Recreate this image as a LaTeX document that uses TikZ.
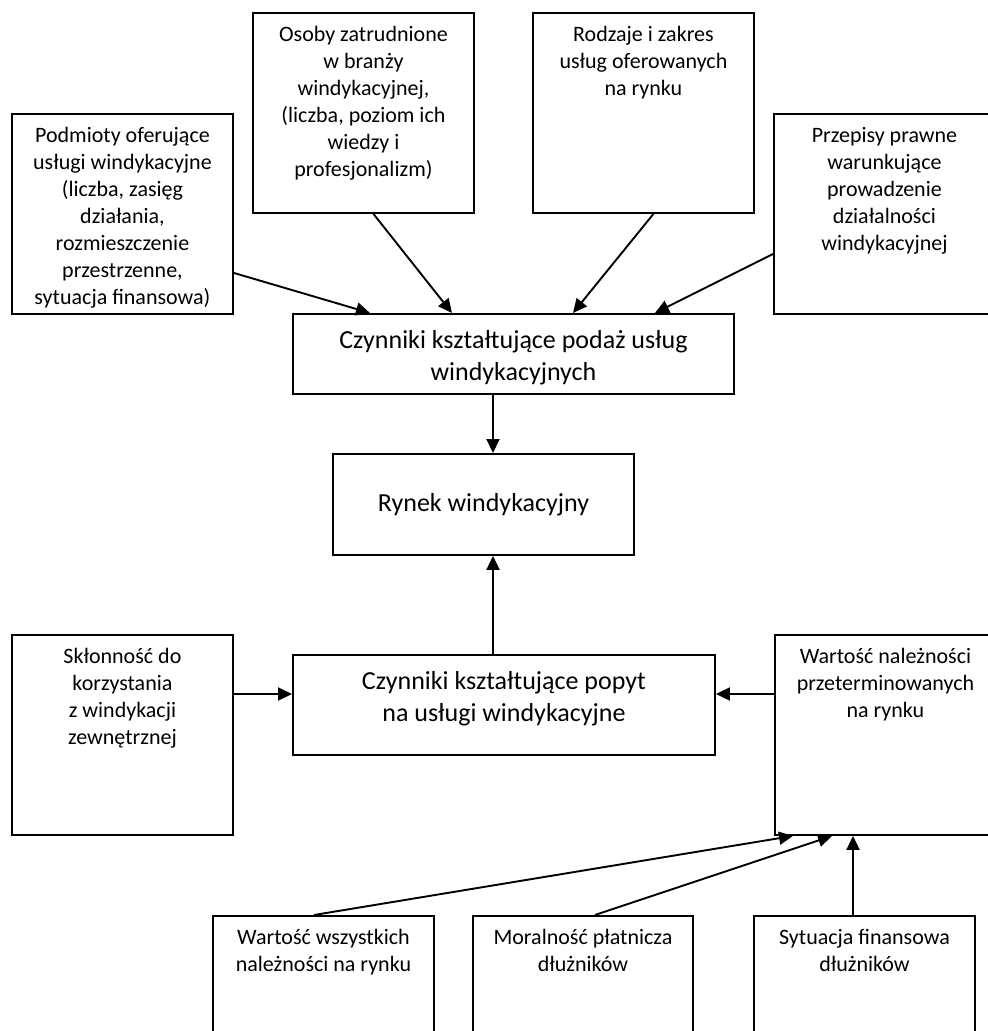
\documentclass[tikz,border=0pt]{standalone}
\usepackage{fontspec}
\setmainfont{Carlito}
\usetikzlibrary{arrows.meta}
\begin{document}
\begin{tikzpicture}[
  x=1pt, y=-1pt,
  box/.style={draw, line width=1.9pt, inner sep=0pt, anchor=north west},
  smalltxt/.style={font=\fontsize{22}{27}\selectfont},
  bigtxt/.style={font=\fontsize{26}{32}\selectfont},
  topbox/.style n args={3}{box,
    execute at begin node={\begin{minipage}[t][#2pt][t]{#1pt}\centering\vspace*{#3pt}\strut},
    execute at end node={\end{minipage}}},
  factor/.style={topbox={221}{200}{9.5}, smalltxt},
  arr/.style={draw, line width=1.9pt, -{Triangle[length=14pt,width=13pt]}}
]
  \useasboundingbox (0,0) rectangle (988,1031);
  \clip (0,0) rectangle (988,1031);

  \node (podm) [factor] at (11,113) {Podmioty oferujące\\usługi windykacyjne\\(liczba, zasięg\\działania,\\rozmieszczenie\\przestrzenne,\\sytuacja finansowa)};
  \node (osoby) [factor] at (252,12) {Osoby zatrudnione\\w branży\\windykacyjnej,\\(liczba, poziom ich\\wiedzy i\\profesjonalizm)};
  \node (rodz) [factor] at (532,12) {Rodzaje i zakres\\usług oferowanych\\na rynku};
  \node (przep) [factor] at (773,113) {Przepisy prawne\\warunkujące\\prowadzenie\\działalności\\windykacyjnej};

  \node (podaz) [topbox={441}{80}{12.5}, bigtxt] at (292,313) {Czynniki kształtujące podaż usług\\windykacyjnych};
  \node (rynek) [box, bigtxt, minimum width=301pt, minimum height=101pt] at (332,453) {Rynek windykacyjny};
  \node (popyt) [topbox={422}{100}{12.5}, bigtxt] at (292,654) {Czynniki kształtujące popyt\\na usługi windykacyjne};

  \node (sklon) [factor] at (11,634) {Skłonność do\\korzystania\\z windykacji\\zewnętrznej};
  \node (wartn) [factor] at (774,634) {Wartość należności\\przeterminowanych\\na rynku};

  \node (wwsz) [factor] at (212,915) {Wartość wszystkich\\należności na rynku};
  \node (moral) [topbox={220}{200}{9.5}, smalltxt] at (472,915) {Moralność płatnicza\\dłużników};
  \node (sytu) [factor] at (753,915) {Sytuacja finansowa\\dłużników};

  \coordinate (axis) at (493,0);
  \coordinate (col) at (853,0);
  \coordinate (lvl) at (0,694);

  \draw[arr] ([yshift=-59pt]podm.east) -- ([xshift=78pt]podaz.north west);
  \draw[arr] ([xshift=10pt]osoby.south) -- ([xshift=160pt]podaz.north west);
  \draw[arr] ([xshift=10pt]rodz.south) -- ([xshift=281pt]podaz.north west);
  \draw[arr] ([yshift=-40pt]przep.west) -- ([xshift=363pt]podaz.north west);
  \draw[arr] (podaz.south -| axis) -- (rynek.north -| axis);
  \draw[arr] (popyt.north -| axis) -- (rynek.south -| axis);
  \draw[arr] (sklon.east |- lvl) -- (popyt.west |- lvl);
  \draw[arr] (wartn.west |- lvl) -- (popyt.east |- lvl);
  \draw[arr] ([xshift=-9.5pt]wwsz.north) -- ([xshift=19pt]wartn.south west);
  \draw[arr] ([xshift=12pt]moral.north) -- ([xshift=58pt]wartn.south west);
  \draw[arr] (sytu.north -| col) -- (wartn.south -| col);
\end{tikzpicture}
\end{document}
